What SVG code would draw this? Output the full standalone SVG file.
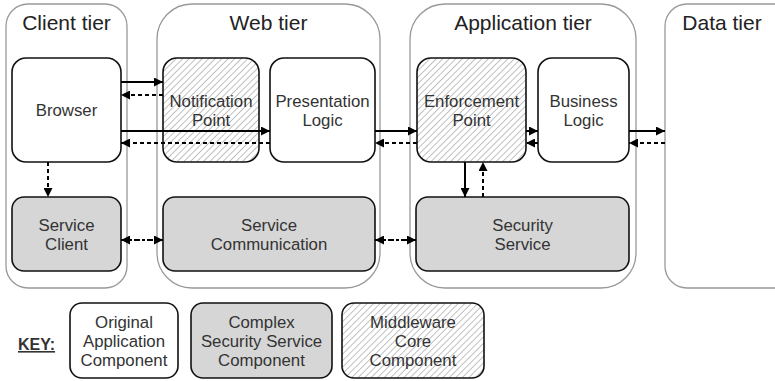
<svg xmlns="http://www.w3.org/2000/svg" width="775" height="381" viewBox="0 0 775 381">
<defs>
<pattern id="hatch" patternUnits="userSpaceOnUse" width="4.6" height="4.6" patternTransform="rotate(45)">
<rect width="4.6" height="4.6" fill="#ffffff"/>
<line x1="0" y1="0" x2="0" y2="4.6" stroke="#777" stroke-width="0.9"/>
</pattern>
<marker id="ah" markerUnits="userSpaceOnUse" markerWidth="9" markerHeight="9" refX="8" refY="4" orient="auto-start-reverse" viewBox="0 0 8 8">
<path d="M0,0 L8,4 L0,8 z" fill="#000"/>
</marker>
<style>
.tier{fill:#fff;stroke:#999;stroke-width:1.3}
.ttl{font-family:"Liberation Sans",Arial,sans-serif;font-size:21px;fill:#222;text-anchor:middle}
.node{stroke:#111;stroke-width:1.6}
.white{fill:#fff}
.gray{fill:#d6d6d6}
.hat{fill:url(#hatch)}
.lbl{font-family:"Liberation Sans",Arial,sans-serif;font-size:16.8px;fill:#333;text-anchor:middle}
.c{fill:none;stroke:#000;stroke-width:2}
.sol{marker-end:url(#ah)}
.dsh{stroke-dasharray:4,3;marker-end:url(#ah)}
.bi{stroke-dasharray:6,2,3,2;marker-start:url(#ah);marker-end:url(#ah)}
</style>
</defs>
<rect width="775" height="381" fill="#fff"/>
<g id="tiers">
<g id="client-tier"><rect class="tier" x="6" y="4" width="121" height="284" rx="22"/><text class="ttl" x="66.5" y="30">Client tier</text></g>
<g id="web-tier"><rect class="tier" x="157" y="4" width="223" height="284" rx="35"/><text class="ttl" x="268.5" y="30">Web tier</text></g>
<g id="app-tier"><rect class="tier" x="410" y="4" width="226" height="284" rx="35"/><text class="ttl" x="523" y="30">Application tier</text></g>
<g id="data-tier"><rect class="tier" x="665" y="4" width="140" height="284" rx="22"/><text class="ttl" x="722" y="30">Data tier</text></g>
</g>
<g id="browser"><rect class="node white" x="12" y="58" width="109" height="104" rx="14"/><text class="lbl" x="66.5" y="116">Browser</text></g>
<g id="notification-point"><rect class="node hat" x="163" y="58" width="96" height="104" rx="14"/><text class="lbl" x="211" y="107">Notification</text><text class="lbl" x="211" y="126">Point</text></g>
<g id="presentation-logic"><rect class="node white" x="270" y="58" width="105" height="104" rx="14"/><text class="lbl" x="322.5" y="107">Presentation</text><text class="lbl" x="322.5" y="126">Logic</text></g>
<g id="enforcement-point"><rect class="node hat" x="417" y="58" width="109" height="104" rx="14"/><text class="lbl" x="471.5" y="107">Enforcement</text><text class="lbl" x="471.5" y="126">Point</text></g>
<g id="business-logic"><rect class="node white" x="538" y="58" width="91" height="104" rx="14"/><text class="lbl" x="583.5" y="107">Business</text><text class="lbl" x="583.5" y="126">Logic</text></g>
<g id="service-client"><rect class="node gray" x="12" y="197" width="109" height="74" rx="12"/><text class="lbl" x="66.5" y="231">Service</text><text class="lbl" x="66.5" y="250">Client</text></g>
<g id="service-communication"><rect class="node gray" x="163" y="197" width="212" height="74" rx="12"/><text class="lbl" x="269" y="231">Service</text><text class="lbl" x="269" y="250">Communication</text></g>
<g id="security-service"><rect class="node gray" x="416" y="197" width="213" height="74" rx="12"/><text class="lbl" x="522.5" y="231">Security</text><text class="lbl" x="522.5" y="250">Service</text></g>
<g id="connectors">
<line class="c sol" x1="121" y1="82" x2="163" y2="82"/>
<line class="c dsh" x1="163" y1="95" x2="121" y2="95"/>
<line class="c sol" x1="121" y1="131" x2="270" y2="131"/>
<line class="c dsh" x1="270" y1="143" x2="121" y2="143"/>
<line class="c sol" x1="375" y1="131" x2="417" y2="131"/>
<line class="c dsh" x1="417" y1="143" x2="375" y2="143"/>
<line class="c sol" x1="526" y1="131" x2="538" y2="131"/>
<line class="c dsh" x1="538" y1="143" x2="526" y2="143"/>
<line class="c sol" x1="629" y1="131" x2="665" y2="131"/>
<line class="c dsh" x1="665" y1="143" x2="629" y2="143"/>
<line class="c dsh" x1="48" y1="162" x2="48" y2="197"/>
<line class="c sol" x1="465" y1="162" x2="465" y2="197"/>
<line class="c dsh" x1="483" y1="197" x2="483" y2="162"/>
<line class="c bi" x1="121" y1="240" x2="163" y2="240"/>
<line class="c bi" x1="375" y1="240" x2="416" y2="240"/>
</g>
<g id="key">
<text x="18" y="350" font-family="Liberation Sans,Arial,sans-serif" font-size="16" font-weight="bold" fill="#333" text-decoration="underline">KEY:</text>
<g id="key-original"><rect class="node white" x="70" y="303" width="108" height="75" rx="12"/><text class="lbl" x="124" y="328">Original</text><text class="lbl" x="124" y="347">Application</text><text class="lbl" x="124" y="366">Component</text></g>
<g id="key-complex"><rect class="node gray" x="191" y="303" width="141" height="75" rx="12"/><text class="lbl" x="261.5" y="328">Complex</text><text class="lbl" x="261.5" y="347">Security Service</text><text class="lbl" x="261.5" y="366">Component</text></g>
<g id="key-middleware"><rect class="node hat" x="342" y="303" width="142" height="75" rx="12"/><text class="lbl" x="413" y="328">Middleware</text><text class="lbl" x="413" y="347">Core</text><text class="lbl" x="413" y="366">Component</text></g>
</g>
</svg>
